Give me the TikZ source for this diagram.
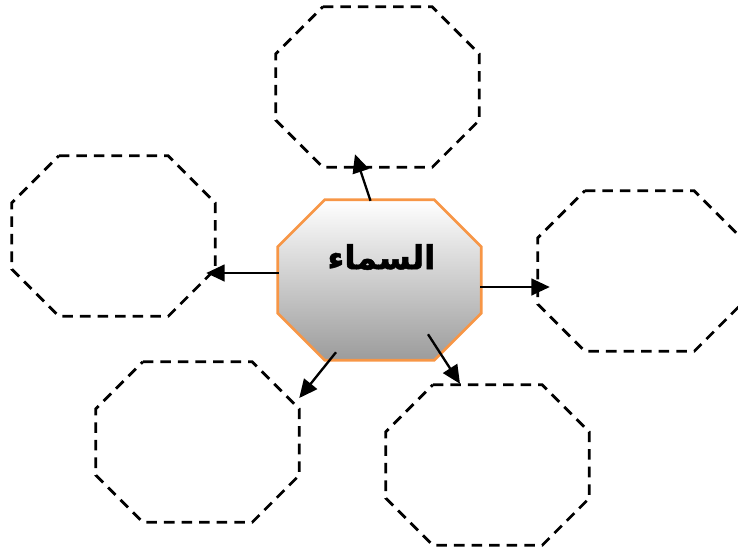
\documentclass[tikz,border=0pt]{standalone}
\usepackage{fontspec}
\newfontfamily\arabicfont[Script=Arabic, BoldFeatures={FakeBold=1.5}]{DejaVu Sans}
\TeXXeTstate=1
\usetikzlibrary{arrows.meta,calc}
\definecolor{skyline}{HTML}{F79646}

% octagon round a named box, corners cut by 47 units
\newcommand{\octpath}[1]{($(#1.north west)+(47,0)$) -- ($(#1.north east)+(-47,0)$) -- ($(#1.north east)+(0,47)$)
  -- ($(#1.south east)+(0,-47)$) -- ($(#1.south east)+(-47,0)$) -- ($(#1.south west)+(47,0)$)
  -- ($(#1.south west)+(0,-47)$) -- ($(#1.north west)+(0,47)$) -- cycle}

\tikzset{
  box/.style={rectangle, minimum width=6.09cm, minimum height=4.8cm, inner sep=0pt},
  blank/.style={draw, dash pattern=on 9pt off 6pt, line width=2.4pt},
  skybox/.style={draw=skyline, line width=2.2pt, top color=white, bottom color=gray!78},
  link/.style={-{Triangle[length=5.5mm,width=5mm]}, line width=2pt}
}

\begin{document}
\begin{tikzpicture}[x=0.03cm,y=-0.03cm]
    \clip (0,0) rectangle (738,552);
    % empty boxes round the centre
    \node[box] (top) at (377.5,87) {};
    \node[box] (left) at (113.5,236) {};
    \node[box] (right) at (639.5,271) {};
    \node[box] (botleft) at (197.5,442) {};
    \node[box] (botright) at (487.5,465) {};
    \foreach \n in {top,left,right,botleft,botright}
      \draw[blank] \octpath{\n};
    % centre
    \node[box] (sky) at (379.5,280) {};
    \fill[black!25,shift={(4,4)}] \octpath{sky};
    \draw[skybox] \octpath{sky};
    \node[font=\arabicfont\bfseries\fontsize{28}{30}\selectfont] (word) at ($(sky.center)+(2,-23)$) {\beginR السماء\endR};
    % arrows
    \draw[link] ($(sky.north)+(-9,1)$) -- ($(top.south)+(-22.5,-13)$);
    \draw[link] ($(sky.west)+(1,-7)$) -- ($(left.east)+(-9,37)$);
    \draw[link] ($(sky.east)+(-1,7)$) -- ($(right.west)+(12,16)$);
    \draw[link] ($(sky.south)+(-43.5,-8)$) -- ($(botleft.east)+(0,-44)$);
    \draw[link] ($(sky.south)+(48.5,-26)$) -- ($(botright.north)+(-27.5,-1)$);
\end{tikzpicture}
\end{document}
